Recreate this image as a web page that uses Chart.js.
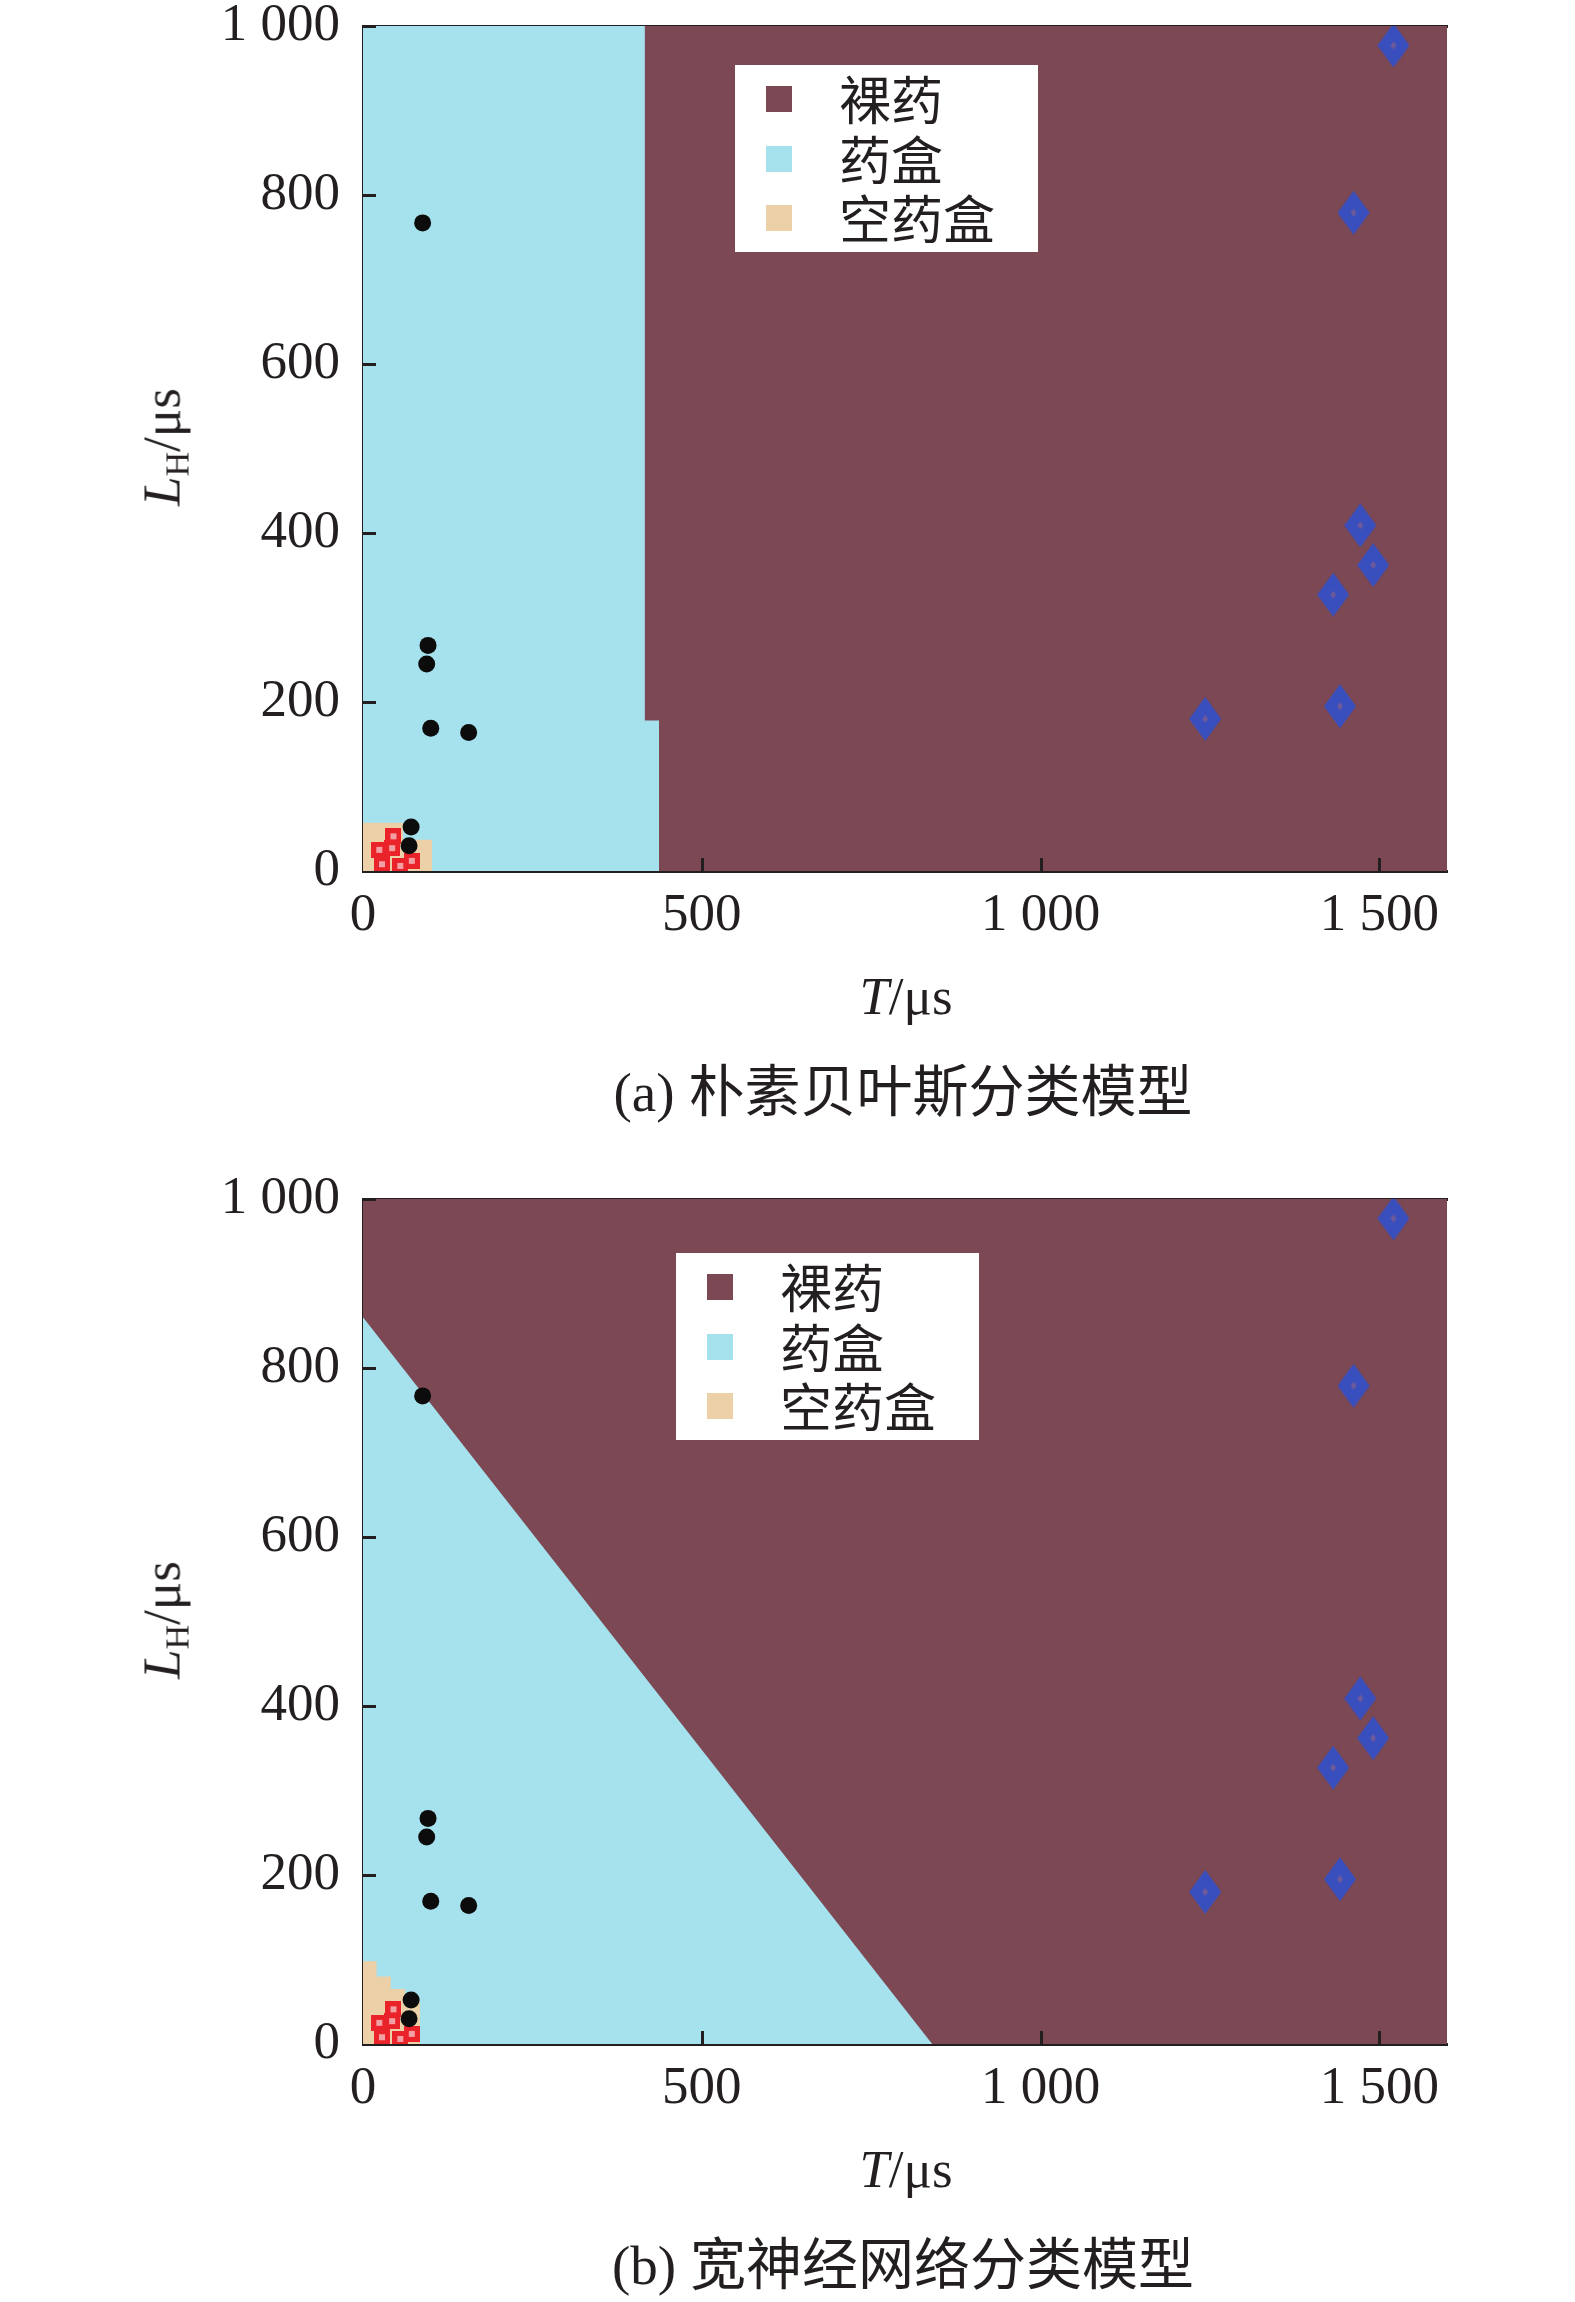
<!DOCTYPE html>
<html>
<head>
<meta charset="utf-8">
<script src="https://cdn.jsdelivr.net/npm/chart.js@4.4.1/dist/chart.umd.min.js"></script>
<style>
  html, body { margin: 0; padding: 0; background: #fff; }
  body { width: 1575px; height: 2302px; position: relative; overflow: hidden; }
  canvas.plot { position: absolute; left: 0; }
  .txt { position: absolute; color: #231f20; font-family: 'Liberation Serif', 'Times New Roman', 'Noto Sans CJK SC', serif; white-space: nowrap; transform: translate(-50%, -50%); line-height: 1; }
  .legend { position: absolute; background: #fff; }
  .legend .sw { position: absolute; width: 26px; height: 26px; }
  .legend .lb { position: absolute; font-family: 'Noto Sans CJK SC', sans-serif; font-size: 52px; line-height: 60px; color: #231f20; white-space: nowrap; }
</style>
</head>
<body>
<canvas id="cA" class="plot" width="1575" height="960" style="top:0px"></canvas>
<canvas id="cB" class="plot" width="1575" height="960" style="top:1173px"></canvas>
<div id="overlay"></div>
<script>
// ---------- data ----------
const classNames = ['裸药', '药盒', '空药盒'];
const xTickValues = [0, 500, 1000, 1500];
const xTickLabels = ['0', '500', '1 000', '1 500'];
const yTickValues = [0, 200, 400, 600, 800, 1000];
const yTickLabels = ['0', '200', '400', '600', '800', '1 000'];
const xTitle = 'T/μs';
const captionA = '(a) 朴素贝叶斯分类模型';
const captionB = '(b) 宽神经网络分类模型';

// samples (T, L_H)
const bareT  = [1521, 1462, 1472, 1491, 1432, 1442, 1243];
const bareL  = [977, 779, 409, 362, 327, 195, 180];
const boxT   = [88, 96, 94, 100, 156, 71, 68];
const boxL   = [767, 267, 245, 169, 164, 52, 30];
const emptyT = [45, 24, 43, 28, 55, 72];
const emptyL = [41, 25, 27, 8, 6, 12];

// decision regions, panel (a) naive Bayes
const aBareX  = [0, 1600];
const aBareY  = [1000, 1000];
const aBoxX   = [0, 416, 416, 437, 437];
const aBoxY   = [1000, 1000, 178, 178, 0];
const aEmptyX = [0, 59, 59, 102, 102];
const aEmptyY = [57, 57, 37, 37, 0];

// decision regions, panel (b) wide neural network
const bBareX  = [0, 1600];
const bBareY  = [1000, 1000];
const bBoxX   = [0, 840];
const bBoxY   = [860, 0];
const bEmptyX = [0, 20, 20, 41, 41, 62, 62, 84, 84];
const bEmptyY = [98, 98, 80, 80, 65, 65, 50, 50, 0];

// ---------- styles ----------
const COL_BARE = '#7b4853';
const COL_BOX = '#a6e1ee';
const COL_EMPTY = '#ecd0a8';
const INK = '#231f20';
const TICK_FONT = { family: "'Liberation Serif', 'Times New Roman', serif", size: 53 };

const zip = (xs, ys) => xs.map((x, i) => ({ x: x, y: ys[i] }));

function diamondImg() {
  const c = document.createElement('canvas'); c.width = 32; c.height = 44;
  const g = c.getContext('2d');
  g.fillStyle = '#3a4fbe';
  g.beginPath(); g.moveTo(16, 0); g.lineTo(32, 22); g.lineTo(16, 44); g.lineTo(0, 22); g.closePath(); g.fill();
  g.fillStyle = '#6f5a9a';
  g.beginPath(); g.moveTo(16, 18); g.lineTo(19, 22); g.lineTo(16, 26); g.lineTo(13, 22); g.closePath(); g.fill();
  return c;
}
function squareImg() {
  const c = document.createElement('canvas'); c.width = 16; c.height = 16;
  const g = c.getContext('2d');
  g.fillStyle = '#ea2229'; g.fillRect(0, 0, 16, 16);
  g.fillStyle = '#f3a0a4'; g.fillRect(5, 5, 6, 6);
  return c;
}
const DIAMOND = diamondImg();
const SQUARE = squareImg();

const innerTicks = {
  id: 'innerTicks',
  afterDraw(chart) {
    const { ctx, chartArea, scales } = chart;
    ctx.save();
    ctx.strokeStyle = INK; ctx.lineWidth = 3;
    scales.x.ticks.forEach(t => {
      const px = Math.round(scales.x.getPixelForValue(t.value)) + 0.5;
      if (t.value === 0) return;
      ctx.beginPath(); ctx.moveTo(px, chartArea.bottom); ctx.lineTo(px, chartArea.bottom - 13); ctx.stroke();
    });
    scales.y.ticks.forEach(t => {
      const py = Math.round(scales.y.getPixelForValue(t.value)) + 0.5;
      if (t.value === 0) return;
      ctx.beginPath(); ctx.moveTo(chartArea.left, py); ctx.lineTo(chartArea.left + 13, py); ctx.stroke();
    });
    ctx.restore();
  }
};

function region(label, xs, ys, color, order) {
  return {
    type: 'line', label: label, data: zip(xs, ys), fill: 'start',
    backgroundColor: color, borderColor: color, borderWidth: 0,
    pointRadius: 0, tension: 0, order: order
  };
}

function noPad(s) { s.paddingTop = 0; s.paddingBottom = 0; s.paddingLeft = 0; s.paddingRight = 0; }

function makeChart(id, bareXs, bareYs, boxXs, boxYs, emptyXs, emptyYs) {
  return new Chart(document.getElementById(id), {
    type: 'scatter',
    data: {
      datasets: [
        { label: classNames[0], data: zip(bareT, bareL), pointStyle: DIAMOND, order: 0 },
        { label: classNames[1], data: zip(boxT, boxL), pointStyle: 'circle', pointRadius: 8.5,
          backgroundColor: '#0c0c0c', borderWidth: 0, order: 0 },
        { label: classNames[2], data: zip(emptyT, emptyL), pointStyle: SQUARE, order: 1 },
        region(classNames[2], emptyXs, emptyYs, COL_EMPTY, 10),
        region(classNames[1], boxXs, boxYs, COL_BOX, 11),
        region(classNames[0], bareXs, bareYs, COL_BARE, 12)
      ]
    },
    options: {
      responsive: false,
      animation: false,
      layout: { padding: { left: 0, right: 128, top: 26, bottom: 0 } },
      plugins: { legend: { display: false }, tooltip: { enabled: false } },
      scales: {
        x: {
          type: 'linear', position: 'bottom', min: 0, max: 1600, z: 1,
          afterBuildTicks: s => { s.ticks = xTickValues.map(v => ({ value: v })); },
          afterFit: s => { s.height = 89; noPad(s); },
          ticks: { callback: v => xTickLabels[xTickValues.indexOf(v)], font: TICK_FONT, color: INK,
                   padding: 13, maxRotation: 0, autoSkip: false },
          grid: { display: false, drawTicks: false },
          border: { display: true, color: INK, width: 3 }
        },
        x2: {
          type: 'linear', position: 'top', min: 0, max: 1600, z: 1,
          afterFit: s => { s.height = 0; noPad(s); },
          ticks: { display: false },
          grid: { display: false, drawTicks: false },
          border: { display: true, color: INK, width: 3 }
        },
        y: {
          type: 'linear', position: 'left', min: 0, max: 1000, z: 1,
          afterBuildTicks: s => { s.ticks = yTickValues.map(v => ({ value: v })); },
          afterFit: s => { s.width = 363; noPad(s); },
          ticks: { callback: v => yTickLabels[yTickValues.indexOf(v)], font: TICK_FONT, color: INK,
                   padding: 23, autoSkip: false },
          grid: { display: false, drawTicks: false },
          border: { display: true, color: INK, width: 3 }
        }
      }
    },
    plugins: [innerTicks]
  });
}

makeChart('cA', aBareX, aBareY, aBoxX, aBoxY, aEmptyX, aEmptyY);
makeChart('cB', bBareX, bBareY, bBoxX, bBoxY, bEmptyX, bEmptyY);

// ---------- HTML text: titles, captions, legends ----------
const overlay = document.getElementById('overlay');
function addText(html, x, y, size, extra) {
  const d = document.createElement('div');
  d.className = 'txt';
  d.style.left = x + 'px'; d.style.top = y + 'px'; d.style.fontSize = size + 'px';
  if (extra) d.style.transform = 'translate(-50%, -50%) ' + extra;
  d.innerHTML = html;
  overlay.appendChild(d);
}
function xTitleHtml() {
  const parts = xTitle.split('/');
  return '<i>' + parts[0] + '</i>/' + parts[1];
}
const yTitleHtml = '<i>L</i><span style="font-size:34px;position:relative;top:9px">H</span>/μs';
function capHtml(s) {
  const i = s.indexOf(')') + 1;
  return '<span style="font-size:55px">' + s.slice(0, i) + '</span> <span style="font-family:\'Noto Sans CJK SC\';font-size:56px">' + s.slice(i + 1) + '</span>';
}
const panelTop = [0, 1173];
panelTop.forEach((t, k) => {
  addText(xTitleHtml(), 906, t + 996, 53);
  addText(yTitleHtml, 162, t + 447, 53, 'rotate(-90deg)');
  addText(capHtml(k === 0 ? captionA : captionB), 903, t + 1089, 56);
});

function addLegend(left, top) {
  const box = document.createElement('div');
  box.className = 'legend';
  box.style.left = left + 'px'; box.style.top = top + 'px';
  box.style.width = '303px'; box.style.height = '187px';
  const cols = [COL_BARE, COL_BOX, COL_EMPTY];
  const rows = [34, 94, 153];
  classNames.forEach((n, i) => {
    const sw = document.createElement('div');
    sw.className = 'sw'; sw.style.background = cols[i];
    sw.style.left = '31px'; sw.style.top = (rows[i] - 13) + 'px';
    box.appendChild(sw);
    const lb = document.createElement('div');
    lb.className = 'lb'; lb.textContent = n;
    lb.style.left = '104px'; lb.style.top = (rows[i] - 31) + 'px';
    box.appendChild(lb);
  });
  overlay.appendChild(box);
}
addLegend(735, 65);
addLegend(676, 1253);
</script>
</body>
</html>
